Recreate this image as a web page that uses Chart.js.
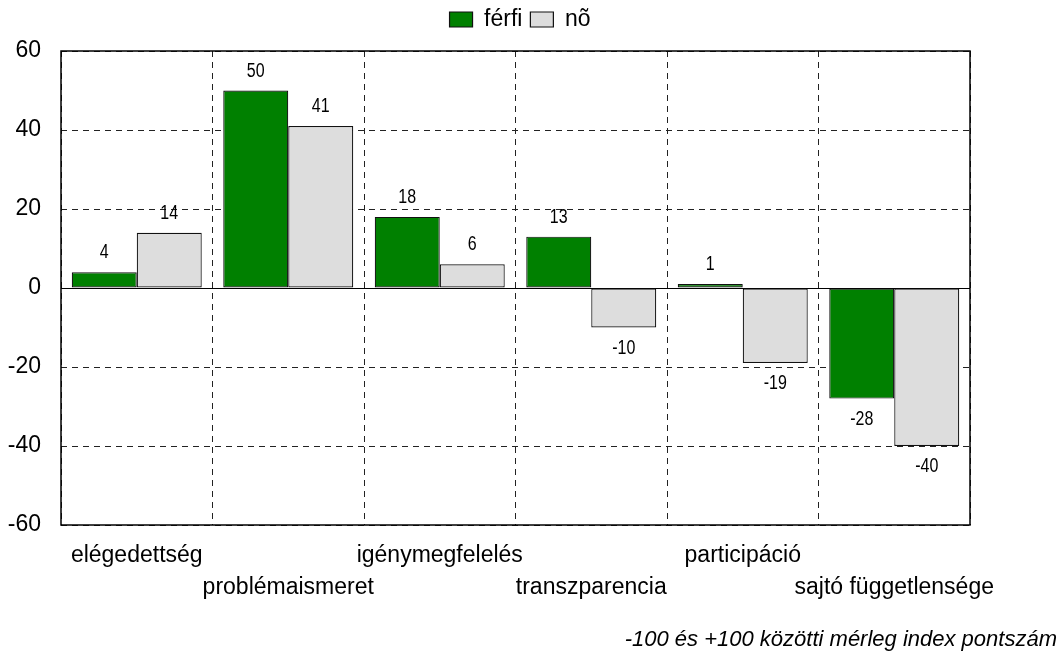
<!DOCTYPE html>
<html>
<head>
<meta charset="utf-8">
<script src="https://cdn.jsdelivr.net/npm/chart.js@4"></script>
<style>
  html, body { margin: 0; padding: 0; background: #fff; }
  #wrap { width: 1064px; height: 659px; }
</style>
</head>
<body>
<div id="wrap"><canvas id="c" width="1064" height="659"></canvas></div>
<script>
const categories = ['elégedettség', 'problémaismeret', 'igénymegfelelés', 'transzparencia', 'participáció', 'sajtó függetlensége'];
const ferfiValues = [4, 50, 18, 13, 1, -28];
const noValues = [14, 41, 6, -10, -19, -40];
const seriesNames = ['férfi', 'nõ'];
const yTicks = [-60, -40, -20, 0, 20, 40, 60];
const footnote = '-100 és +100 közötti mérleg index pontszám';

const FONT = "'Liberation Sans', Arial, sans-serif";

// alternate category labels between two lines
const xLabels = categories.map((c, i) => i % 2 === 0 ? [c, ''] : ['', c]);

const frameAndLabels = {
  id: 'frameAndLabels',
  beforeDraw(chart) {
    // centre the legend like the reference (over the whole figure, not just the plot)
    if (chart.legend) { chart.legend.left = 0; chart.legend.right = 1040; }
  },
  beforeDatasetsDraw(chart) {
    const { ctx, chartArea: a, scales } = chart;
    const y0 = scales.y.getPixelForValue(0);
    ctx.save();
    ctx.strokeStyle = '#000';
    ctx.lineWidth = 1;
    ctx.setLineDash([]);
    ctx.beginPath();
    ctx.moveTo(a.left, Math.round(y0) + 0.5);
    ctx.lineTo(a.right, Math.round(y0) + 0.5);
    ctx.stroke();
    ctx.restore();
  },
  afterDatasetsDraw(chart) {
    const { ctx, chartArea: a } = chart;
    ctx.save();
    ctx.font = '20px ' + FONT;
    ctx.fillStyle = '#000';
    ctx.textAlign = 'center';
    ctx.textBaseline = 'middle';
    chart.data.datasets.forEach((ds, di) => {
      const meta = chart.getDatasetMeta(di);
      meta.data.forEach((el, i) => {
        const v = ds.data[i];
        const y = v >= 0 ? el.y - 19.5 : el.y + 20.5;
        ctx.save();
        ctx.translate(el.x, y);
        ctx.scale(0.8, 1);
        ctx.fillText(String(v), 0, 0);
        ctx.restore();
      });
    });
    // frame
    ctx.strokeStyle = '#000';
    ctx.lineWidth = 1.5;
    ctx.setLineDash([]);
    ctx.strokeRect(a.left, a.top, a.right - a.left, a.bottom - a.top);
    // footnote
    ctx.font = 'italic 22px ' + FONT;
    ctx.textAlign = 'right';
    ctx.textBaseline = 'middle';
    ctx.fillText(footnote, 1057, 640);
    ctx.restore();
  }
};

const legendHeight = {
  id: 'legendHeight',
  beforeInit(chart) {
    const origFit = chart.legend.fit;
    chart.legend.fit = function () {
      origFit.call(this);
      this.height = 51;
    };
  }
};

new Chart(document.getElementById('c'), {
  type: 'bar',
  data: {
    labels: xLabels,
    datasets: [
      { label: seriesNames[0], data: ferfiValues, backgroundColor: '#008000', borderColor: '#111', borderWidth: 1.2, borderSkipped: false },
      { label: seriesNames[1], data: noValues, backgroundColor: '#DDDDDD', borderColor: '#111', borderWidth: 1.2, borderSkipped: false }
    ]
  },
  options: {
    responsive: false,
    animation: false,
    devicePixelRatio: 1,
    layout: { padding: { top: 0, left: 0, right: 94, bottom: 0 } },
    datasets: { bar: { categoryPercentage: 0.858, barPercentage: 1.0 } },
    plugins: {
      legend: {
        position: 'top',
        labels: {
          color: '#000',
          font: { family: FONT, size: 23 },
          boxWidth: 23,
          boxHeight: 15,
          padding: 8
        }
      },
      tooltip: { enabled: false }
    },
    scales: {
      x: {
        offset: true,
        grid: { offset: true, color: '#222', lineWidth: 1, drawTicks: false },
        border: { display: false, dash: [6, 5] },
        ticks: {
          color: '#000',
          padding: 15,
          maxRotation: 0,
          autoSkip: false,
          font: { family: FONT, size: 23, lineHeight: '32px' }
        },
        afterFit(scale) { scale.height = 659 - 525; }
      },
      y: {
        min: -60,
        max: 60,
        afterBuildTicks(scale) { scale.ticks = yTicks.map(v => ({ value: v })); },
        grid: { color: '#222', lineWidth: 1, drawTicks: false },
        border: { display: false, dash: [6, 5] },
        ticks: {
          color: '#000',
          padding: 20,
          font: { family: FONT, size: 23 }
        },
        afterFit(scale) { scale.width = 61; }
      }
    }
  },
  plugins: [legendHeight, frameAndLabels]
});
</script>
</body>
</html>
